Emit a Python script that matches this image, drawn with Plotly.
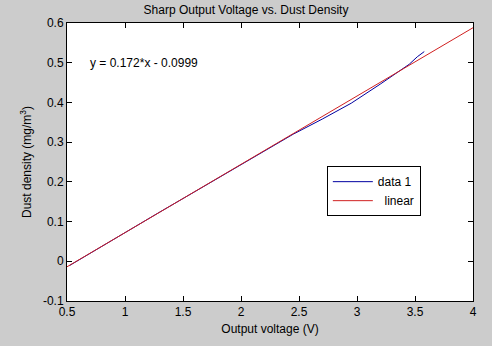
import plotly.graph_objects as go

data_x = [0.52, 0.8, 1.0, 1.3, 1.6, 1.9, 2.2, 2.45, 2.7, 2.95, 3.2, 3.45, 3.52, 3.58]
data_y = [-0.011, 0.038, 0.072, 0.124, 0.175, 0.226, 0.278, 0.320, 0.358, 0.398, 0.446, 0.496, 0.515, 0.528]
slope = 0.172
intercept = -0.0999
lin_x = [0.5, 4.0]
lin_y = [slope * v + intercept for v in lin_x]

x_ticks = [0.5, 1, 1.5, 2, 2.5, 3, 3.5, 4]
y_ticks = [-0.1, 0, 0.1, 0.2, 0.3, 0.4, 0.5, 0.6]

fig = go.Figure()
fig.add_trace(go.Scatter(x=data_x, y=data_y, mode="lines", name="data 1",
                         line=dict(color="#0000a0", width=1)))
fig.add_trace(go.Scatter(x=lin_x, y=lin_y, mode="lines", name="  linear",
                         line=dict(color="#d02020", width=1)))

font = dict(family="Liberation Sans, Arial", size=12, color="black")
axis_common = dict(showgrid=False, zeroline=False, ticks="inside", ticklen=5,
                   tickcolor="black", showline=True, linecolor="black", linewidth=1,
                   mirror="ticks", tickfont=font)
fig.update_layout(
    width=492, height=346,
    margin=dict(l=67, r=19, t=23, b=39),
    paper_bgcolor="#cccccc", plot_bgcolor="white",
    font=font,
    title=dict(text="Sharp Output Voltage vs. Dust Density", x=0.5, xanchor="center",
               y=0.985, yanchor="top", font=dict(size=12)),
    xaxis=dict(range=[0.5, 4], tickvals=x_ticks, ticktext=[str(v) for v in x_ticks],
               title=dict(text="Output voltage (V)", standoff=6, font=dict(size=12)),
               **axis_common),
    yaxis=dict(range=[-0.1, 0.6], tickvals=y_ticks, ticktext=["-0.1", "0", "0.1", "0.2", "0.3", "0.4", "0.5", "0.6"],
               title=dict(text="Dust density (mg/m<sup>3</sup>)", standoff=8, font=dict(size=12)),
               **axis_common),
    showlegend=True,
    legend=dict(x=0.64, y=0.485, xanchor="left", yanchor="top", bgcolor="white",
                bordercolor="black", borderwidth=1, font=dict(size=12),
                itemwidth=40, tracegroupgap=0),
    annotations=[dict(text="y = 0.172*x - 0.0999", x=0.68, y=0.5, xref="x", yref="y",
                      xanchor="left", yanchor="middle", showarrow=False, font=dict(size=12))],
)
fig.write_html("out.html")
